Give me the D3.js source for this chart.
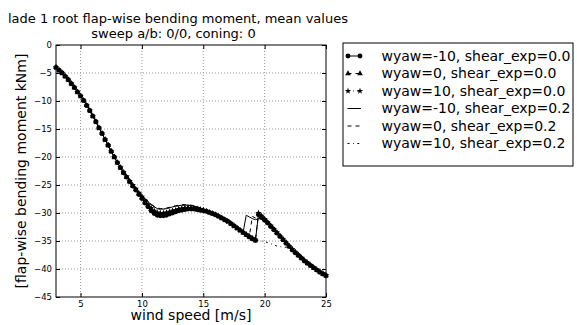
<!DOCTYPE html>
<html>
<head>
<meta charset="utf-8">
<script src="https://cdn.jsdelivr.net/npm/d3@7"></script>
<style>
  body { margin: 0; background: #fff; }
  svg { display: block; font-family: "DejaVu Sans", sans-serif; }
</style>
</head>
<body>
<svg width="577" height="325"></svg>
<script>
// DATA
const windSpeed = [3, 3.25, 3.5, 3.75, 4, 4.25, 4.5, 4.75, 5, 5.25,
  5.5, 5.75, 6, 6.25, 6.5, 6.75, 7, 7.25, 7.5, 7.75,
  8, 8.25, 8.5, 8.75, 9, 9.25, 9.5, 9.75, 10, 10.25,
  10.5, 10.75, 11, 11.25, 11.5, 11.75, 12, 12.25, 12.5, 12.75,
  13, 13.25, 13.5, 13.75, 14, 14.25, 14.5, 14.75, 15, 15.25,
  15.5, 15.75, 16, 16.25, 16.5, 16.75, 17, 17.25, 17.5, 17.75,
  18, 18.25, 18.5, 18.75, 19, 19.25, 19.5, 19.75, 20, 20.25,
  20.5, 20.75, 21, 21.25, 21.5, 21.75, 22, 22.25, 22.5, 22.75,
  23, 23.25, 23.5, 23.75, 24, 24.25, 24.5, 24.75, 25];

const yawM10Shear00 = [-4.0, -4.5, -5.0, -5.6, -6.2, -6.9, -7.6, -8.4, -9.1, -9.9,
  -10.8, -11.7, -12.7, -13.7, -14.8, -15.8, -16.9, -17.9, -19.0, -20.0,
  -21.0, -21.9, -22.8, -23.6, -24.4, -25.2, -25.9, -26.7, -27.4, -28.2,
  -28.9, -29.6, -30.1, -30.4, -30.5, -30.5, -30.4, -30.2, -30.0, -29.8,
  -29.6, -29.5, -29.4, -29.3, -29.3, -29.3, -29.4, -29.5, -29.6, -29.7,
  -29.9, -30.1, -30.3, -30.6, -30.9, -31.2, -31.5, -31.9, -32.3, -32.7,
  -33.1, -33.5, -33.9, -34.3, -34.6, -34.9, -30.3, -30.8, -31.3, -31.8,
  -32.4, -33.0, -33.6, -34.2, -34.8, -35.4, -36.0, -36.6, -37.1, -37.6,
  -38.1, -38.6, -39.0, -39.4, -39.8, -40.2, -40.6, -40.9, -41.2];

const yaw0Shear00 = [-4.0, -4.5, -5.0, -5.6, -6.2, -6.9, -7.6, -8.4, -9.1, -9.9,
  -10.8, -11.7, -12.7, -13.7, -14.8, -15.8, -16.9, -17.9, -19.0, -20.0,
  -21.0, -21.9, -22.8, -23.6, -24.4, -25.1, -25.8, -26.6, -27.3, -28.0,
  -28.7, -29.3, -29.8, -30.1, -30.2, -30.2, -30.1, -29.9, -29.7, -29.6,
  -29.4, -29.3, -29.2, -29.2, -29.2, -29.2, -29.3, -29.4, -29.5, -29.7,
  -29.9, -30.1, -30.3, -30.6, -30.9, -31.2, -31.5, -31.9, -32.3, -32.7,
  -33.1, -33.5, -33.9, -34.2, -34.6, -34.8, -30.1, -30.6, -31.1, -31.7,
  -32.3, -32.9, -33.5, -34.1, -34.7, -35.3, -35.9, -36.5, -37.0, -37.5,
  -38.0, -38.5, -39.0, -39.4, -39.8, -40.2, -40.5, -40.9, -41.2];

const yawP10Shear00 = [-4.0, -4.5, -5.0, -5.6, -6.2, -6.9, -7.6, -8.4, -9.1, -9.9,
  -10.8, -11.7, -12.7, -13.7, -14.8, -15.8, -16.9, -17.9, -19.0, -20.0,
  -21.0, -21.9, -22.7, -23.5, -24.3, -25.0, -25.7, -26.4, -27.1, -27.8,
  -28.5, -29.1, -29.6, -29.9, -30.0, -30.0, -29.9, -29.8, -29.6, -29.5,
  -29.3, -29.2, -29.1, -29.1, -29.1, -29.2, -29.3, -29.4, -29.5, -29.7,
  -29.9, -30.1, -30.3, -30.6, -30.9, -31.2, -31.5, -31.9, -32.3, -32.7,
  -33.1, -33.5, -33.8, -34.2, -34.5, -34.8, -30.0, -30.5, -31.1, -31.7,
  -32.3, -32.9, -33.5, -34.1, -34.7, -35.3, -35.9, -36.5, -37.0, -37.5,
  -38.0, -38.5, -38.9, -39.3, -39.7, -40.1, -40.5, -40.8, -41.1];

const yawM10Shear02 = [-4.0, -4.5, -5.0, -5.6, -6.2, -6.9, -7.6, -8.4, -9.1, -9.9,
  -10.8, -11.7, -12.7, -13.7, -14.8, -15.8, -16.9, -17.9, -19.0, -20.0,
  -21.0, -21.9, -22.7, -23.5, -24.2, -24.9, -25.6, -26.3, -26.9, -27.5,
  -28.0, -28.5, -28.9, -29.2, -29.3, -29.3, -29.2, -29.1, -28.9, -28.8,
  -28.7, -28.6, -28.6, -28.6, -28.7, -28.8, -28.9, -29.1, -29.3, -29.5,
  -29.8, -30.0, -30.3, -30.6, -30.9, -31.2, -31.5, -31.9, -32.3, -32.7,
  -33.1, -33.4, -30.4, -30.7, -31.0, -31.2, -31.0, -31.1, -31.4, -31.9,
  -32.4, -33.0, -33.6, -34.2, -34.8, -35.4, -36.0, -36.6, -37.1, -37.6,
  -38.1, -38.6, -39.0, -39.4, -39.8, -40.2, -40.6, -40.9, -41.2];

const yaw0Shear02 = [-4.0, -4.5, -5.0, -5.6, -6.2, -6.9, -7.6, -8.4, -9.1, -9.9,
  -10.8, -11.7, -12.7, -13.7, -14.8, -15.8, -16.9, -17.9, -19.0, -20.0,
  -21.0, -21.9, -22.7, -23.4, -24.1, -24.8, -25.5, -26.1, -26.7, -27.3,
  -27.9, -28.4, -28.8, -29.1, -29.2, -29.2, -29.1, -29.0, -28.8, -28.7,
  -28.6, -28.5, -28.5, -28.5, -28.6, -28.7, -28.9, -29.1, -29.3, -29.5,
  -29.8, -30.0, -30.3, -30.6, -30.9, -31.2, -31.5, -31.9, -32.3, -32.7,
  -33.1, -33.5, -33.9, -34.2, -30.6, -30.9, -30.7, -31.0, -31.4, -31.9,
  -32.4, -33.0, -33.6, -34.2, -34.8, -35.4, -36.0, -36.6, -37.1, -37.6,
  -38.1, -38.6, -39.0, -39.4, -39.8, -40.2, -40.6, -40.9, -41.2];

const yawP10Shear02 = [-4.0, -4.5, -5.0, -5.6, -6.2, -6.9, -7.6, -8.4, -9.1, -9.9,
  -10.8, -11.7, -12.7, -13.7, -14.8, -15.8, -16.9, -17.9, -19.0, -20.0,
  -21.0, -21.9, -22.7, -23.5, -24.2, -24.9, -25.6, -26.2, -26.8, -27.4,
  -28.0, -28.5, -28.9, -29.2, -29.3, -29.3, -29.2, -29.0, -28.9, -28.8,
  -28.7, -28.6, -28.6, -28.6, -28.7, -28.8, -28.9, -29.1, -29.3, -29.5,
  -29.8, -30.0, -30.3, -30.6, -30.9, -31.2, -31.5, -31.9, -32.3, -32.7,
  -33.1, -33.5, -33.9, -34.3, -34.6, -34.8, -34.9, -35.0, -35.1, -35.3,
  -35.5, -35.7, -35.9, -36.0, -36.1, -36.1, -36.2, -36.6, -37.1, -37.6,
  -38.1, -38.6, -39.0, -39.4, -39.8, -40.2, -40.6, -40.9, -41.2];

const seriesLabels = ["wyaw=-10, shear_exp=0.0", "wyaw=0, shear_exp=0.0", "wyaw=10, shear_exp=0.0",
  "wyaw=-10, shear_exp=0.2", "wyaw=0, shear_exp=0.2", "wyaw=10, shear_exp=0.2"];
const seriesValues = [yawM10Shear00, yaw0Shear00, yawP10Shear00, yawM10Shear02, yaw0Shear02, yawP10Shear02];
const xTicks = [5, 10, 15, 20, 25];
const yTicks = [0, -5, -10, -15, -20, -25, -30, -35, -40, -45];

// styles per series (matplotlib classic: o-, ^--, *-., -, --, -.)
const dashes = [null, "4,4", "2,3.5,0.8,3.5", null, "4,4", "2,3.5,0.8,3.5"];
const symbols = [d3.symbolCircle, d3.symbolTriangle, d3.symbolStar, null, null, null];
const symbolSizes = [19, 14, 13, 0, 0, 0];

// CONSTANTS
const svg = d3.select("svg");
const margin = { top: 45, left: 56, right: 251, bottom: 28 };
const width = 577, height = 325;
const innerWidth = width - margin.left - margin.right;
const innerHeight = height - margin.top - margin.bottom;

const xScale = d3.scaleLinear().domain([3, 25]).range([0, innerWidth]);
const yScale = d3.scaleLinear().domain([-45, 0]).range([innerHeight, 0]);

const g = svg.append("g").attr("transform", `translate(${margin.left},${margin.top})`);

// grid
g.append("g").selectAll("line").data(xTicks.filter(t => t < 25)).join("line")
  .attr("x1", d => xScale(d)).attr("x2", d => xScale(d))
  .attr("y1", 0).attr("y2", innerHeight)
  .attr("stroke", "#999").attr("stroke-dasharray", "1,2");
g.append("g").selectAll("line").data(yTicks.filter(t => t > -45 && t < 0)).join("line")
  .attr("y1", d => yScale(d)).attr("y2", d => yScale(d))
  .attr("x1", 0).attr("x2", innerWidth)
  .attr("stroke", "#999").attr("stroke-dasharray", "1,2");

// series
const line = d3.line().x((d, i) => xScale(windSpeed[i])).y(d => yScale(d));
seriesValues.forEach((vals, k) => {
  g.append("path").datum(vals)
    .attr("d", line)
    .attr("fill", "none").attr("stroke", "#000").attr("stroke-width", 1)
    .attr("stroke-dasharray", dashes[k]);
  if (symbols[k]) {
    g.append("g").selectAll("path").data(vals).join("path")
      .attr("transform", (d, i) => `translate(${xScale(windSpeed[i])},${yScale(d)})`)
      .attr("d", d3.symbol(symbols[k], symbolSizes[k]))
      .attr("fill", "#000");
  }
});

// axes, ticks pointing inward like matplotlib classic
const fmt = d3.format("d");
const styleAxis = sel => {
  sel.select(".domain").remove();
  sel.selectAll("text").attr("font-family", "DejaVu Sans").attr("font-size", 8.5).attr("fill", "#000");
  sel.selectAll("line").attr("stroke", "#000");
};
g.append("g").attr("transform", `translate(0,${innerHeight})`)
  .call(d3.axisBottom(xScale).tickValues(xTicks).tickFormat(fmt).tickSize(-4).tickPadding(4))
  .call(styleAxis);
g.append("g")
  .call(d3.axisLeft(yScale).tickValues(yTicks).tickFormat(fmt).tickSize(-4).tickPadding(4))
  .call(styleAxis);
g.append("g")
  .call(d3.axisTop(xScale).tickValues(xTicks).tickSize(-4))
  .call(styleAxis)
  .call(a => a.selectAll("text").remove());
g.append("g").attr("transform", `translate(${innerWidth},0)`)
  .call(d3.axisRight(yScale).tickValues(yTicks).tickSize(-4))
  .call(styleAxis)
  .call(a => a.selectAll("text").remove());

g.append("rect").attr("width", innerWidth).attr("height", innerHeight)
  .attr("fill", "none").attr("stroke", "#000").attr("stroke-width", 1);

// titles and labels
svg.append("text").attr("x", 8).attr("y", 23).attr("font-size", 13)
  .text("lade 1 root flap-wise bending moment, mean values");
svg.append("text").attr("x", 173.5).attr("y", 38).attr("font-size", 13).attr("text-anchor", "middle")
  .text("sweep a/b: 0/0, coning: 0");
svg.append("text").attr("x", margin.left + innerWidth / 2).attr("y", 320)
  .attr("font-size", 14).attr("text-anchor", "middle").text("wind speed [m/s]");
svg.append("text")
  .attr("transform", `translate(26,${margin.top + innerHeight / 2}) rotate(-90)`)
  .attr("font-size", 14).attr("text-anchor", "middle").text("[flap-wise bending moment kNm]");

// legend
const legend = svg.append("g").attr("transform", "translate(343,43)");
legend.append("rect").attr("width", 230).attr("height", 123)
  .attr("fill", "#fff").attr("stroke", "#000").attr("stroke-width", 1);
seriesLabels.forEach((label, k) => {
  const y = 13 + k * 17.5;
  legend.append("line").attr("x1", 4.5).attr("x2", 18).attr("y1", y).attr("y2", y)
    .attr("stroke", "#000").attr("stroke-dasharray", dashes[k]);
  if (symbols[k]) {
    [5, 17].forEach(x => legend.append("path")
      .attr("transform", `translate(${x},${y})`)
      .attr("d", d3.symbol(symbols[k], symbolSizes[k])).attr("fill", "#000"));
  }
  legend.append("text").attr("x", 38.5).attr("y", y).attr("dy", "0.35em")
    .attr("font-size", 14).text(label);
});
</script>
</body>
</html>
